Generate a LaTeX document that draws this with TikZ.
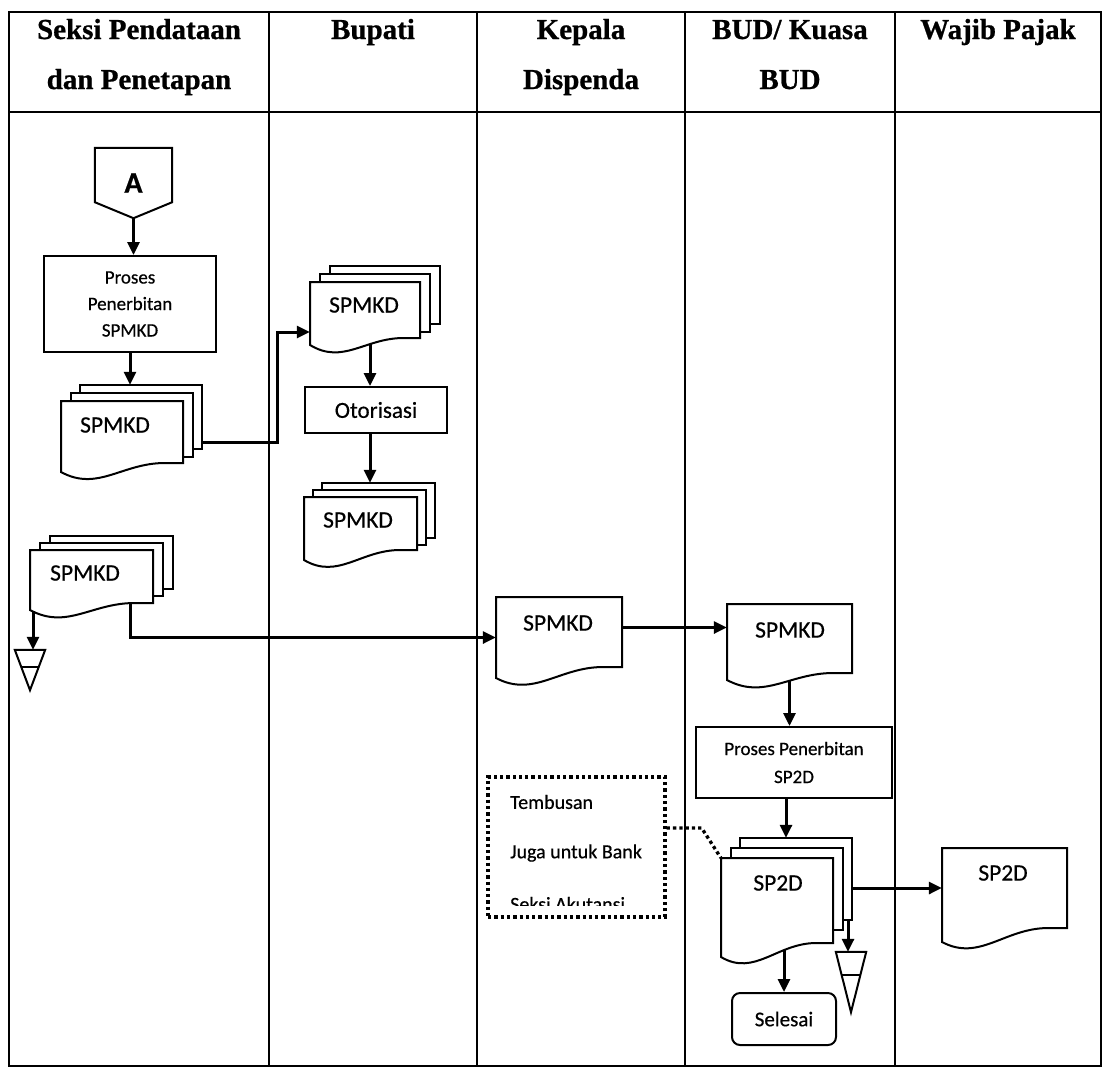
\documentclass[tikz,border=0pt]{standalone}
\usepackage{fontspec}
\setmainfont[FakeBold=0.8]{Liberation Serif}
\newfontfamily\calfont[FakeBold=0.5]{Carlito}
\usetikzlibrary{arrows.meta,fit,calc}
\pgfdeclarelayer{background}
\pgfsetlayers{background,main}

\tikzset{
  lane/.style={line width=1.5pt},
  sheet/.style={draw, fill=white, line width=2pt, line join=miter},
  arr/.style={line width=3pt, -{Triangle[length=13pt,width=12pt]}},
  proc/.style={draw, fill=white, line width=2pt, inner sep=2pt, align=center},
  hdr/.style={font=\fontsize{29}{34}\selectfont\bfseries, anchor=base, inner sep=0pt},
  lbl/.style={font=\calfont\fontsize{23.5}{28}\selectfont, inner sep=0pt},
  boxtxt/.style={font=\calfont\fontsize{20}{24}\selectfont, inner sep=0pt, anchor=west},
  frame/.style={inner sep=0pt},
  dotline/.style={line width=3.3pt, dash pattern=on 3.3pt off 3pt},
  tri/.style={inner sep=0pt},
}

% single document sheet: L T R yR yL
\newcommand{\docsheet}[5]{%
  \draw[sheet] (#1,#2) -- (#3,#2) -- (#3,#4) -- ({#1+0.85*(#3-#1)},{#4})
    .. controls ({#1+0.5*(#3-#1)},{#4}) and ({#1+0.3*(#3-#1)},{#5+20}) .. (#1,#5) -- cycle;
}
% name L T R yR yL
\newcommand{\singledoc}[6]{%
  \docsheet{#2}{#3}{#4}{#5}{#6}
  \node[frame, fit={(#2,#3) (#4,#6)}] (#1) {};
}
% name L T R yR yL dx dy hb
\newcommand{\stackdoc}[9]{%
  \draw[sheet] ({#2+2*#7},{#3-2*#8}) rectangle ({#4+2*#7},{#3-2*#8+#9});
  \draw[sheet] ({#2+#7},{#3-#8}) rectangle ({#4+#7},{#3-#8+#9});
  \docsheet{#2}{#3}{#4}{#5}{#6}
  \node[frame, fit={(#2,#3) (#4,#6)}] (#1f) {};
  \node[frame, fit={({#2},{#3-2*#8}) ({#4+2*#7},{#6})}] (#1) {};
}

\begin{document}
\begin{tikzpicture}[x=1pt,y=-1pt]
\useasboundingbox (0,0) rectangle (1107,1069);

% headers
\node[hdr] (h1a) at (139,39) {Seksi Pendataan};
\node[hdr] (h1b) at (139,89) {dan Penetapan};
\node[hdr] (h2) at (373,39) {Bupati};
\node[hdr] (h3a) at (581,39) {Kepala};
\node[hdr] (h3b) at (581,89) {Dispenda};
\node[hdr] (h4a) at (790,39) {BUD/ Kuasa};
\node[hdr] (h4b) at (790,89) {BUD};
\node[hdr] (h5) at (998,39) {Wajib Pajak};

% off-page connector A
\node[frame, minimum width=77pt, minimum height=54pt] (offA) at (133.5,175) {};
\draw[sheet] (offA.north west) -- (offA.north east) -- (offA.south east)
  -- ([yshift=-16pt]offA.south) -- (offA.south west) -- cycle;
\node[font=\calfont\bfseries\fontsize{30}{34}\selectfont, inner sep=0pt] (Alabel) at (133.5,183) {A};
\coordinate (Atip) at ([yshift=-16pt]offA.south);

% lane 1
\node[proc, minimum width=172pt, minimum height=96pt, font=\calfont\fontsize{19}{26.5}\selectfont] (p1) at (130,304) {Proses\\Penerbitan\\SPMKD};
\stackdoc{s1}{61}{401}{183}{463}{472}{9.5}{8}{64}
\node[lbl] (s1t) at (115,425) {SPMKD};
\stackdoc{s3}{30}{550}{153}{603}{610}{10}{7}{53}
\node[lbl] (s3t) at (85,573) {SPMKD};
\node[tri, minimum width=30pt, minimum height=40pt] (t1) at (30,670) {};
\draw[sheet] (t1.north west) -- (t1.north east) -- (t1.south) -- cycle;
\draw[line width=2pt] ($(t1.north west)!0.42!(t1.south)$) -- ($(t1.north east)!0.42!(t1.south)$);

% lane 2
\stackdoc{b1}{310}{282}{420}{338}{345}{10}{8}{58}
\node[lbl] (b1t) at (364,305) {SPMKD};
\node[proc, minimum width=142pt, minimum height=46pt, font=\calfont\fontsize{23}{28}\selectfont] (oto) at (376,410) {Otorisasi};
\stackdoc{b2}{304}{497}{417}{550}{560}{9}{7}{55}
\node[lbl] (b2t) at (358,520) {SPMKD};

% lane 3
\singledoc{kep}{496}{597}{622}{667}{678}
\node[lbl] (kept) at (558,623) {SPMKD};
\node[draw, dotline, minimum width=177pt, minimum height=140pt] (tb) at (576.5,847) {};
\begin{scope}
  \clip (490,779) rectangle (663,905);
  \node[boxtxt] (tb1) at (510,802) {Tembusan};
  \node[boxtxt] (tb2) at (510,853) {Juga untuk Bank};
  \node[boxtxt] (tb3) at (510,904) {Seksi Akutansi};
\end{scope}

% lane 4
\singledoc{bud}{727}{604}{852}{673}{680}
\node[lbl] (budt) at (790,630) {SPMKD};
\node[proc, minimum width=196pt, minimum height=71pt, font=\calfont\fontsize{19}{28}\selectfont] (p2) at (794,762.5) {Proses Penerbitan\\SP2D};
\stackdoc{sp}{721}{858}{833}{943}{957}{9.5}{10}{82}
\node[lbl] (spt) at (778,883) {SP2D};
\node[proc, rounded corners=8pt, minimum width=104pt, minimum height=52pt, font=\calfont\fontsize{21}{26}\selectfont] (sel) at (784,1019) {Selesai};
\node[tri, minimum width=30pt, minimum height=60pt] (t2) at (851,982) {};
\draw[sheet] (t2.north west) -- (t2.north east) -- (t2.south) -- cycle;
\draw[line width=2pt] ($(t2.north west)!0.383!(t2.south)$) -- ($(t2.north east)!0.383!(t2.south)$);

% lane 5
\singledoc{wp}{942}{848}{1067}{928}{942}
\node[lbl] (wpt) at (1003,873) {SP2D};

% helper coordinates
\coordinate (b1in) at ([yshift=-18.5pt]b1f.west);
\coordinate (o1) at ([xshift=-6pt]oto.north);
\coordinate (o2) at ([xshift=-6pt]oto.south);
\coordinate (t1a) at ([xshift=3pt]t1.north);
\coordinate (k1) at ([yshift=10pt]kep.east);
\coordinate (p2s) at ([xshift=-8pt]p2.south);
\coordinate (wpin) at ([yshift=7pt]wp.west);
\coordinate (t2a) at ([xshift=-3pt]t2.north);

\begin{pgfonlayer}{background}
  \fill[white] (0,0) rectangle (1107,1069);
  \draw[lane] (9,12) rectangle (1101,1066);
  \draw[lane] (9,112) -- (1101,112);
  \foreach \x in {269,477,685,895} \draw[lane] (\x,12) -- (\x,1066);

  \draw[arr] (Atip) -- (Atip |- p1.north);
  \draw[arr] (p1.south) -- (p1.south |- s1.north);
  \draw[arr] ([yshift=-13.5pt]s1.east) -- ++(75,0) |- (b1in);
  \draw[arr] (o1 |- b1f.center) -- (o1);
  \draw[arr] (o2) -- (o2 |- b2.north);
  \draw[arr] (t1a |- s3f.center) -- (t1a);
  \draw[arr] ([xshift=-23pt,yshift=10pt]s3f.south east) |- (kep.west);
  \draw[arr] (k1) -- (k1 -| bud.west);
  \draw[arr] (bud.center) -- (bud.center |- p2.north);
  \draw[arr] (p2s) -- (p2s |- sp.north);
  \draw[arr] (sel.north |- spf.center) -- (sel.north);
  \draw[arr] (sp.east |- wpin) -- (wpin);
  \draw[arr] (t2a |- sp.center) -- (t2a);
  \draw[dotline] ([yshift=19pt]tb.east) -- ++(35,0) -- (spf.north west);
\end{pgfonlayer}
\end{tikzpicture}
\end{document}
